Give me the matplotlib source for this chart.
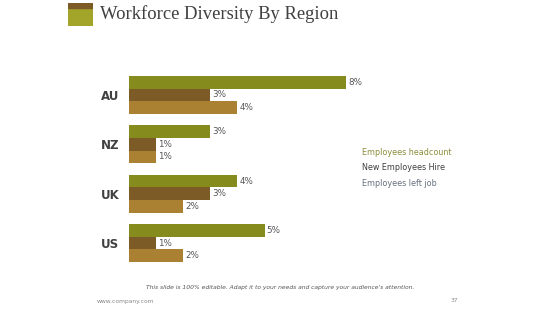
import numpy as np
import matplotlib.pyplot as plt
from matplotlib.patches import Rectangle

regions = ['AU', 'NZ', 'UK', 'US']
series = ['Employees headcount', 'New Employees Hire', 'Employees left job']
headcount = [8, 3, 4, 5]
new_hire = [3, 1, 3, 1]
left_job = [4, 1, 2, 2]
colors = ['#868B1E', '#7D5B27', '#AA8133']
legend_colors = ['#8C8C3C', '#3F3F3F', '#66707E']

fig = plt.figure(figsize=(5.6, 3.15), dpi=100)
W, H = 560, 315


def px_axes(x0, y0, x1, y1):
    return fig.add_axes([x0 / W, 1 - y1 / H, (x1 - x0) / W, (y1 - y0) / H])


# title icon
ax_icon = px_axes(68, 3, 93, 26)
ax_icon.set_xlim(0, 1)
ax_icon.set_ylim(0, 1)
ax_icon.axis('off')
ax_icon.add_patch(Rectangle((0, 0), 1, 0.78, color='#A3A52A'))
ax_icon.add_patch(Rectangle((0, 0.78), 1, 0.22, color='#7D5B27'))

fig.text(100 / W, 1 - 14 / H, 'Workforce Diversity By Region', family='Liberation Serif',
         fontsize=13.4, color='#404040', va='center', ha='left')

# bars
ax = px_axes(129, 76, 400, 262)
step = 3.9
centers = np.arange(len(regions)) * step
for k, vals in enumerate([headcount, new_hire, left_job]):
    ys = centers + (k - 1)
    ax.barh(ys, vals, height=1.0, color=colors[k], linewidth=0)
    for y, v in zip(ys, vals):
        ax.text(v + 0.08, y, f'{v}%', va='center', ha='left', fontsize=6.3, color='#555555')

ax.set_xlim(0, 10)
ax.set_ylim(centers[-1] + 1.5, -1.5)
ax.set_yticks(centers)
ax.set_yticklabels(regions, fontsize=8.5, fontweight='bold', color='#404040')
ax.tick_params(axis='y', length=0, pad=7)
ax.set_xticks([])
for s in ax.spines.values():
    s.set_visible(False)
ax.patch.set_alpha(0)

# legend as plain text
for i, (name, c) in enumerate(zip(series, legend_colors)):
    fig.text(362 / W, 1 - (152 + i * 15.5) / H, name, fontsize=5.8, color=c, va='center', ha='left')

fig.text(280 / W, 1 - 288 / H,
         "This slide is 100% editable. Adapt it to your needs and capture your audience's attention.",
         fontsize=4.3, style='italic', color='#555555', ha='center', va='center')
fig.text(97 / W, 1 - 301 / H, 'www.company.com', fontsize=4.3, color='#888888', ha='left', va='center')
fig.text(458 / W, 1 - 301 / H, '37', fontsize=4.3, color='#888888', ha='right', va='center')

fig.savefig('out.png', dpi=100)
